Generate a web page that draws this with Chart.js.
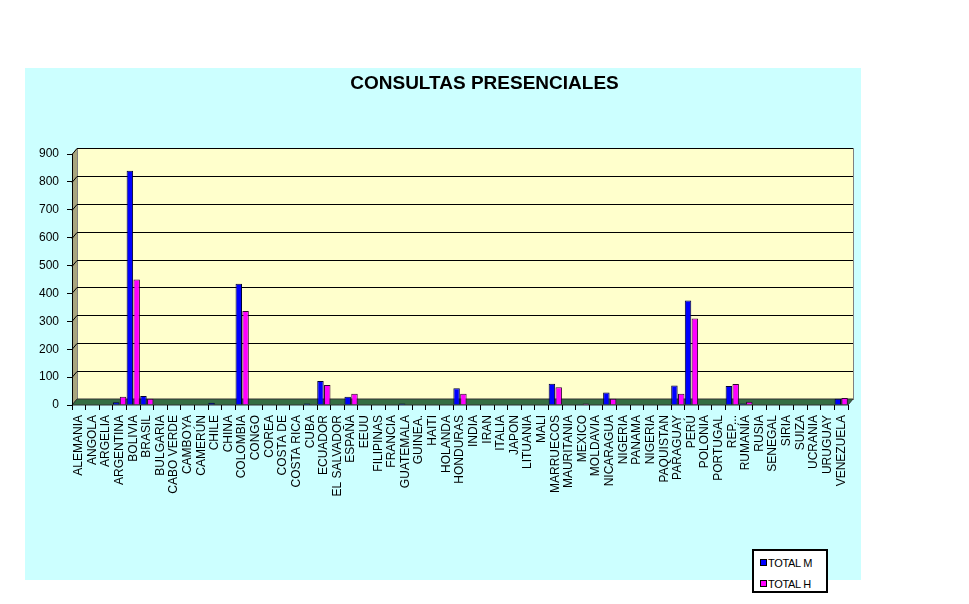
<!DOCTYPE html>
<html>
<head>
<meta charset="utf-8">
<script src="https://cdn.jsdelivr.net/npm/chart.js@4"></script>
<style>
  body { margin: 0; background: #fff; }
  #wrap { position: relative; width: 969px; height: 604px; }
  #legend {
    position: absolute; left: 752px; top: 549px; width: 72px; height: 40px;
    background: #fff; border: 2px solid #000;
    font: 11px Arial, "Liberation Sans", sans-serif; color: #000;
  }
  #legend div { position: absolute; left: 6px; line-height: 12px; letter-spacing: -0.3px; }
  #legend span {
    display: inline-block; width: 5px; height: 5px; border: 1px solid #000;
    margin-right: 1px; vertical-align: 1px;
  }
</style>
</head>
<body>
<div id="wrap">
  <canvas id="consultas" width="969" height="604"></canvas>
  <div id="legend"></div>
</div>
<script>
const titulo = 'CONSULTAS PRESENCIALES';

const paises = ['ALEMANIA', 'ANGOLA', 'ARGELIA', 'ARGENTINA', 'BOLIVIA', 'BRASIL', 'BULGARIA',
    'CABO VERDE', 'CAMBOYA', 'CAMERÚN', 'CHILE', 'CHINA', 'COLOMBIA', 'CONGO', 'COREA',
    'COSTA DE', 'COSTA RICA', 'CUBA', 'ECUADOR', 'EL SALVADOR', 'ESPAÑA', 'EEUU', 'FILIPINAS',
    'FRANCIA', 'GUATEMALA', 'GUINEA.', 'HAITI', 'HOLANDA', 'HONDURAS', 'INDIA', 'IRAN',
    'ITALIA', 'JAPON', 'LITUANIA', 'MALI', 'MARRUECOS', 'MAURITANIA', 'MEXICO', 'MOLDAVIA',
    'NICARAGUA', 'NIGERIA', 'PANAMA', 'NIGERIA', 'PAQUISTAN', 'PARAGUAY', 'PERÚ', 'POLONIA',
    'PORTUGAL', 'REP...', 'RUMANÍA', 'RUSIA', 'SENEGAL', 'SIRIA', 'SUIZA', 'UCRANIA',
    'URUGUAY', 'VENEZUELA'];

const totalM = [0, 0, 0, 10, 840, 32, 0,
    0, 0, 0, 8, 0, 435, 0, 0,
    0, 0, 5, 86, 0, 30, 0, 0,
    0, 5, 0, 0, 0, 60, 0, 0,
    0, 0, 0, 0, 76, 0, 3, 0,
    45, 0, 0, 0, 0, 70, 375, 0,
    0, 68, 5, 0, 0, 0, 0, 0,
    0, 22];

const totalH = [0, 0, 0, 30, 450, 22, 0,
    0, 0, 0, 0, 0, 337, 0, 0,
    0, 0, 3, 72, 3, 40, 0, 0,
    0, 0, 0, 0, 0, 40, 0, 0,
    0, 0, 0, 0, 64, 0, 5, 0,
    22, 0, 0, 0, 0, 40, 310, 0,
    0, 75, 12, 0, 0, 0, 0, 0,
    0, 25];

const yTicks = [0, 100, 200, 300, 400, 500, 600, 700, 800, 900];

const FONT = 'Arial, "Liberation Sans", sans-serif';
const DX = 5, DY = 6; // profundidad del efecto 3D

// fondo celeste, pared amarilla, suelo verde y líneas de división
const excelLook = {
    id: 'excelLook',
    beforeDraw(chart) {
        const { ctx, chartArea: a, scales: { y } } = chart;
        ctx.save();
        ctx.fillStyle = '#ccffff';
        ctx.fillRect(25, 68, 836, 512);

        // pared del fondo
        ctx.fillStyle = '#ffffcc';
        ctx.fillRect(a.left + DX, a.top - DY, a.right - a.left, a.bottom - a.top);
        ctx.strokeStyle = '#808080';
        ctx.lineWidth = 1;
        ctx.strokeRect(a.left + DX + 0.5, a.top - DY + 0.5, a.right - a.left, a.bottom - a.top);

        // pared lateral
        ctx.fillStyle = '#a9a57e';
        ctx.beginPath();
        ctx.moveTo(a.left, a.top);
        ctx.lineTo(a.left + DX, a.top - DY);
        ctx.lineTo(a.left + DX, a.bottom - DY);
        ctx.lineTo(a.left, a.bottom);
        ctx.closePath();
        ctx.fill();

        // líneas de división
        ctx.strokeStyle = '#000';
        yTicks.forEach(v => {
            const py = Math.round(y.getPixelForValue(v)) + 0.5;
            ctx.beginPath();
            ctx.moveTo(a.left, py);
            ctx.lineTo(a.left + DX, py - DY);
            ctx.lineTo(a.right + DX, py - DY);
            ctx.stroke();
        });

        // suelo
        ctx.fillStyle = '#356e42';
        ctx.beginPath();
        ctx.moveTo(a.left, a.bottom);
        ctx.lineTo(a.left + DX, a.bottom - DY);
        ctx.lineTo(a.right + DX, a.bottom - DY);
        ctx.lineTo(a.right, a.bottom);
        ctx.closePath();
        ctx.fill();
        ctx.strokeStyle = '#333';
        ctx.stroke();

        // título centrado en la ventana
        ctx.fillStyle = '#000';
        ctx.font = 'bold 19px ' + FONT;
        ctx.textAlign = 'center';
        ctx.textBaseline = 'middle';
        ctx.fillText(titulo, chart.width / 2, 84);
        ctx.restore();
    }
};

const chart = new Chart(document.getElementById('consultas'), {
    type: 'bar',
    data: {
        labels: paises,
        datasets: [{
            label: 'TOTAL M',
            data: totalM,
            backgroundColor: '#0000ff',
            borderColor: '#000033',
            borderWidth: 1
        }, {
            label: 'TOTAL H',
            data: totalH,
            backgroundColor: '#ff00ff',
            borderColor: '#330033',
            borderWidth: 1
        }]
    },
    options: {
        responsive: false,
        animation: false,
        layout: { padding: { left: 0, right: 121, top: 154, bottom: 0 } },
        datasets: { bar: { categoryPercentage: 1, barPercentage: 0.95 } },
        plugins: {
            legend: { display: false },
            tooltip: { enabled: false },
            title: { display: false }
        },
        scales: {
            x: {
                afterFit(scale) { scale.height = 199; },
                grid: { drawOnChartArea: false, color: '#000', tickLength: 5, offset: true },
                border: { display: false },
                ticks: {
                    color: '#000',
                    font: { family: FONT, size: 12 },
                    minRotation: 90, maxRotation: 90,
                    autoSkip: false,
                    padding: 5
                }
            },
            y: {
                min: 0, max: 900,
                afterFit(scale) { scale.width = 72; },
                afterBuildTicks(scale) { scale.ticks = yTicks.map(v => ({ value: v })); },
                grid: { drawOnChartArea: false, color: '#000', tickLength: 5 },
                border: { display: true, color: '#000' },
                ticks: {
                    color: '#000',
                    font: { family: FONT, size: 12 },
                    padding: 8
                }
            }
        }
    },
    plugins: [excelLook]
});

// leyenda
const legend = document.getElementById('legend');
chart.data.datasets.forEach((ds, i) => {
    const item = document.createElement('div');
    item.style.top = (i === 0 ? 6 : 27) + 'px';
    item.innerHTML = '<span style="background:' + ds.backgroundColor + '"></span>' + ds.label;
    legend.appendChild(item);
});
</script>
</body>
</html>
